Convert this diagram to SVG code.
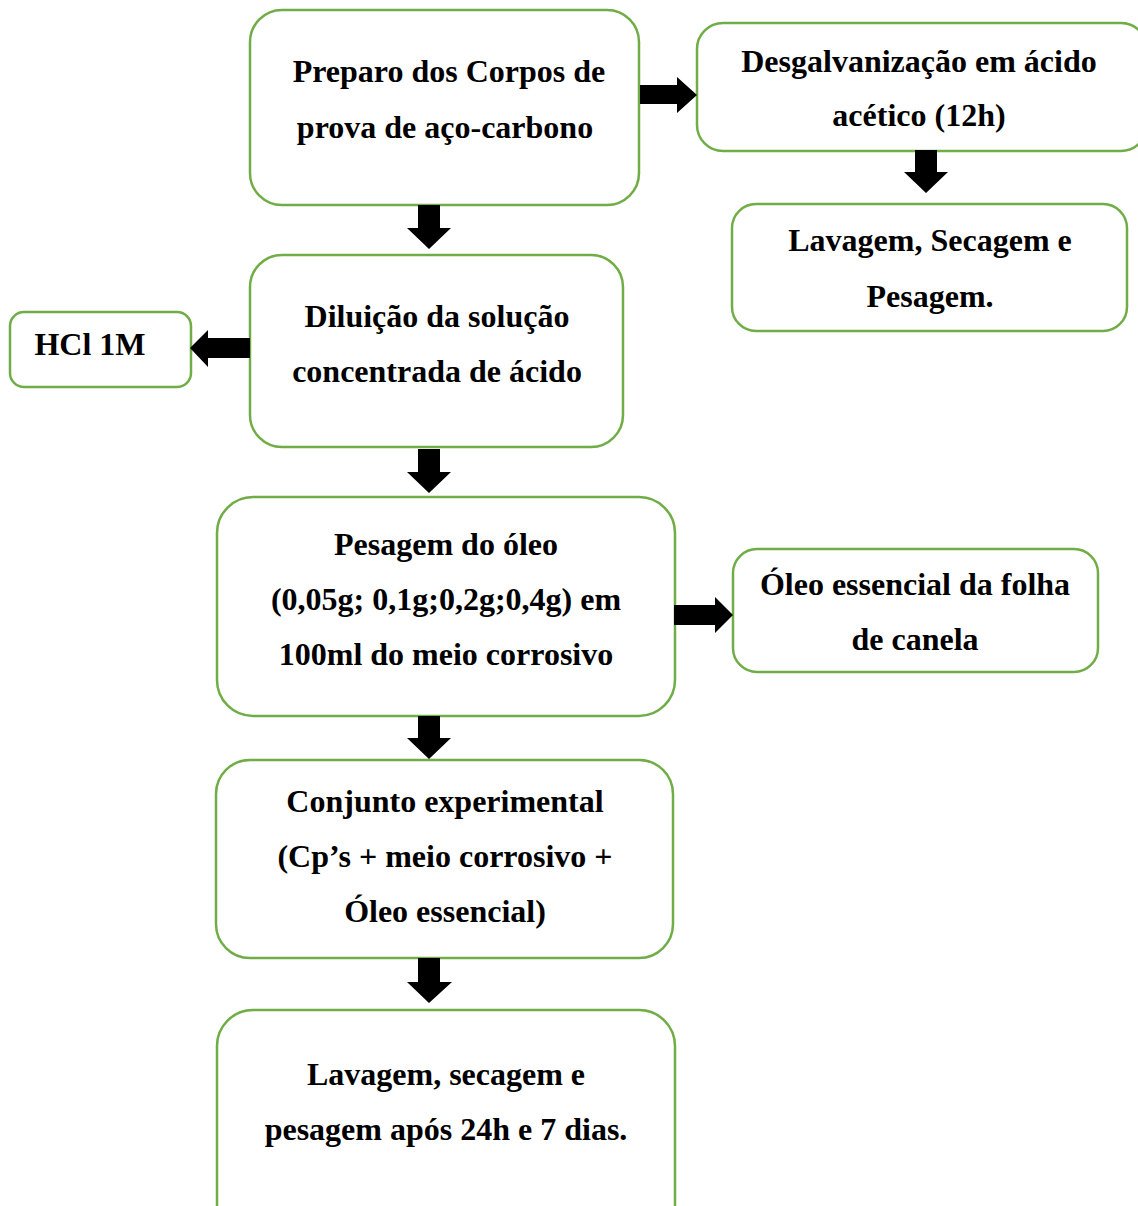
<svg xmlns="http://www.w3.org/2000/svg" width="1138" height="1206" viewBox="0 0 1138 1206">
<style>
.box{fill:#fff;stroke:#70AD47;stroke-width:2.5}
.t{font-family:"Liberation Serif","Times New Roman",serif;font-weight:bold;font-size:32px;fill:#000;text-anchor:middle}
.ar{fill:#000}
</style>
<rect width="1138" height="1206" fill="#fff"/>
<g id="n1"><rect class="box" x="250" y="10" width="389" height="195" rx="32"/>
<text class="t" x="449" y="82">Preparo dos Corpos de</text>
<text class="t" x="445" y="138">prova de aço-carbono</text></g>
<g id="n2"><rect class="box" x="697" y="23" width="450" height="128" rx="26"/>
<text class="t" x="919" y="72">Desgalvanização em ácido</text>
<text class="t" x="919" y="126">acético (12h)</text></g>
<g id="n3"><rect class="box" x="732" y="204" width="395" height="127" rx="24"/>
<text class="t" x="930" y="251">Lavagem, Secagem e</text>
<text class="t" x="930" y="307">Pesagem.</text></g>
<g id="n4"><rect class="box" x="10" y="312" width="181" height="75" rx="14"/>
<text class="t" x="90" y="355">HCl 1M</text></g>
<g id="n5"><rect class="box" x="250" y="255" width="373" height="192" rx="32"/>
<text class="t" x="437" y="327">Diluição da solução</text>
<text class="t" x="437" y="382">concentrada de ácido</text></g>
<g id="n6"><rect class="box" x="217" y="497" width="458" height="219" rx="36"/>
<text class="t" x="446" y="555">Pesagem do óleo</text>
<text class="t" x="446" y="610">(0,05g; 0,1g;0,2g;0,4g) em</text>
<text class="t" x="446" y="665">100ml do meio corrosivo</text></g>
<g id="n7"><rect class="box" x="733" y="549" width="365" height="123" rx="24"/>
<text class="t" x="915" y="595">Óleo essencial da folha</text>
<text class="t" x="915" y="650">de canela</text></g>
<g id="n8"><rect class="box" x="216" y="760" width="457" height="198" rx="34"/>
<text class="t" x="445" y="812">Conjunto experimental</text>
<text class="t" x="445" y="867">(Cp’s + meio corrosivo +</text>
<text class="t" x="445" y="922">Óleo essencial)</text></g>
<g id="n9"><rect class="box" x="217" y="1010" width="458" height="230" rx="36"/>
<text class="t" x="446" y="1085">Lavagem, secagem e</text>
<text class="t" x="446" y="1140">pesagem após 24h e 7 dias.</text></g>
<g id="connectors">
<polygon class="ar" points="418,205 440,205 440,228 451,228 429,249 407,228 418,228"/>
<polygon class="ar" points="640,85 677,85 677,77 697,95 677,113 677,104 640,104"/>
<polygon class="ar" points="915,150 937,150 937,172 948,172 926,193 904,172 915,172"/>
<polygon class="ar" points="250,338 208,338 208,330 190,348 208,367 208,358 250,358"/>
<polygon class="ar" points="418,449 440,449 440,472 451,472 429,493 407,472 418,472"/>
<polygon class="ar" points="674,605 715,605 715,597 733,615 715,633 715,625 674,625"/>
<polygon class="ar" points="418,716 440,716 440,738 451,738 429,759 407,738 418,738"/>
<polygon class="ar" points="418,958 440,958 440,982 452,982 429,1003 407,982 418,982"/>
</g>
</svg>
